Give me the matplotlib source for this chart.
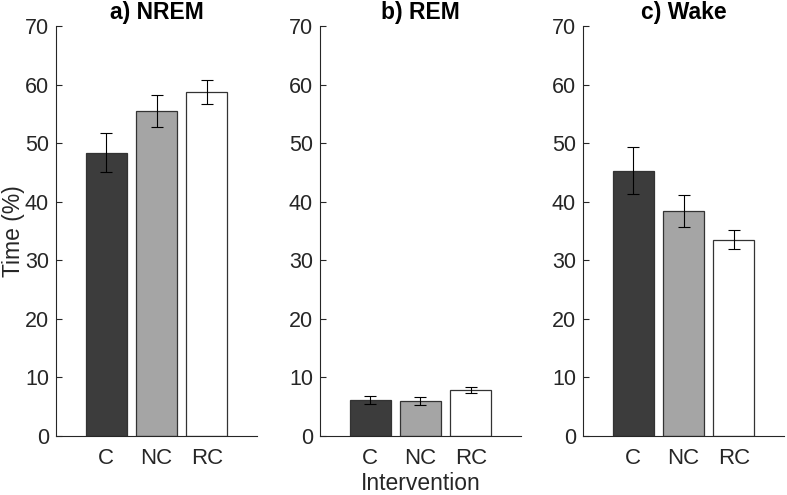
import matplotlib.pyplot as plt

plt.rcParams['font.family'] = ['Liberation Sans', 'DejaVu Sans']

groups = ['C', 'NC', 'RC']
titles = ['a) NREM', 'b) REM', 'c) Wake']
nrem_mean = [48.4, 55.5, 58.7]
nrem_err = [3.4, 2.75, 2.0]
rem_mean = [6.15, 6.0, 7.85]
rem_err = [0.65, 0.7, 0.55]
wake_mean = [45.3, 38.4, 33.5]
wake_err = [4.05, 2.7, 1.6]
bar_colors = ['#3c3c3c', '#a5a5a5', '#ffffff']

means = [nrem_mean, rem_mean, wake_mean]
errs = [nrem_err, rem_err, wake_err]

fig = plt.figure(figsize=(7.87, 4.95), dpi=100)
lefts = [0.0712, 0.4066, 0.7408]
txt = '#262626'

for i in range(3):
    ax = fig.add_axes([lefts[i], 0.1192, 0.2554, 0.8283])
    x = [1, 2, 3]
    ax.bar(x, means[i], width=0.82, color=bar_colors, edgecolor='#333333',
           linewidth=0.9, zorder=2)
    ax.errorbar(x, means[i], yerr=errs[i], fmt='none', ecolor='black',
                elinewidth=0.8, capsize=4, capthick=0.8, zorder=3)
    ax.set_xlim(0, 4)
    ax.set_ylim(0, 70)
    ax.set_yticks(range(0, 71, 10))
    ax.set_xticks(x)
    ax.set_xticklabels(groups)
    ax.spines['top'].set_visible(False)
    ax.spines['right'].set_visible(False)
    for s in ['left', 'bottom']:
        ax.spines[s].set_color('#262626')
        ax.spines[s].set_linewidth(0.8)
    ax.tick_params(axis='y', direction='in', length=4, width=0.8,
                   colors='#262626', labelsize=15.5, labelcolor=txt, pad=5)
    ax.tick_params(axis='x', length=0, labelsize=16, labelcolor=txt, pad=9)
    ax.set_title(titles[i], fontsize=16.5, fontweight='bold', color='black', pad=5)
    if i == 0:
        ax.set_ylabel('Time (%)', fontsize=16.5, color=txt)
        ax.yaxis.set_label_coords(-0.152, 0.5)
    if i == 1:
        ax.set_xlabel('Intervention', fontsize=16.5, color=txt, labelpad=1.5)

fig.savefig('out.png', dpi=100)
